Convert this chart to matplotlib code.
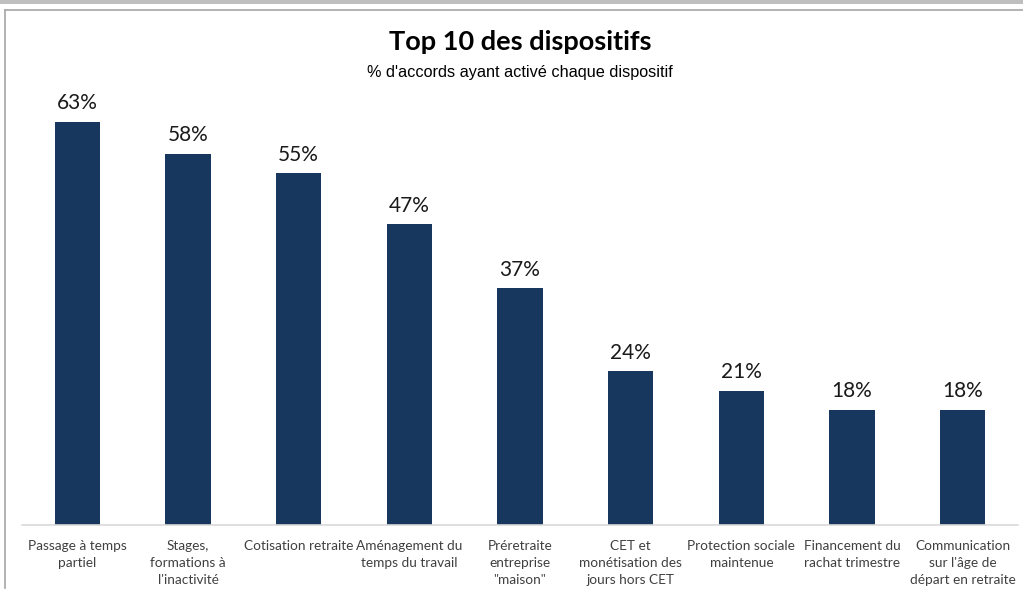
import matplotlib.pyplot as plt
from matplotlib.patches import Rectangle
from matplotlib.lines import Line2D

categories = [
	"Passage à temps\npartiel",
	"Stages,\nformations à\nl'inactivité",
	"Cotisation retraite",
	"Aménagement du\ntemps du travail",
	"Préretraite\nentreprise\n\"maison\"",
	"CET et\nmonétisation des\njours hors CET",
	"Protection sociale\nmaintenue",
	"Financement du\nrachat trimestre",
	"Communication\nsur l'âge de\ndépart en retraite",
]
values = [63, 58, 55, 47, 37, 24, 21, 18, 18]

title = "Top 10 des dispositifs"
subtitle = "% d'accords ayant activé chaque dispositif"

W, H = 1023, 595
fig = plt.figure(figsize=(W / 100, H / 100), dpi=100)

# frame decorations from the original screenshot
fig.add_artist(Rectangle((0, 1 - 4 / H), 1, 4 / H, transform=fig.transFigure,
	color='#BFBFBF', lw=0))
fig.add_artist(Line2D([5 / W, 1], [1 - 10 / H, 1 - 10 / H], transform=fig.transFigure,
	color='#A6A6A6', lw=1.2))
fig.add_artist(Line2D([5 / W, 5 / W], [1 - 10 / H, 1 - 588 / H], transform=fig.transFigure,
	color='#A6A6A6', lw=1.2))

ax_left, ax_right = 22 / W, 1018 / W
ax_bottom = 1 - 525 / H
ax_top = 1 - 77 / H
ax = fig.add_axes([ax_left, ax_bottom, ax_right - ax_left, ax_top - ax_bottom])

x = range(len(values))
bars = ax.bar(x, values, width=0.41, color='#17375E')

for b, v in zip(bars, values):
	ax.annotate(f"{v}%", (b.get_x() + b.get_width() / 2, v), xytext=(0, 6),
		textcoords='offset points', ha='center', va='bottom',
		fontsize=15, family='Lato', color='#1A1A1A')

ax.set_xlim(-0.5, len(values) - 0.5)
ax.set_ylim(0, 70)
ax.set_xticks(list(x))
ax.set_xticklabels(categories, fontsize=9.8, family='Lato', color='#404040',
	va='top', linespacing=1.5)
ax.tick_params(axis='x', length=0, pad=11)
ax.set_yticks([])
for s in ['top', 'right', 'left']:
	ax.spines[s].set_visible(False)
ax.spines['bottom'].set_color('#D9D9D9')
ax.spines['bottom'].set_linewidth(1.2)

cx = (ax_left + ax_right) / 2
fig.text(cx, 1 - 42 / H, title, ha='center', va='center', fontsize=19.5,
	fontweight='bold', family='Lato', color='black')
fig.text(cx, 1 - 73 / H, subtitle, ha='center', va='center', fontsize=11.7,
	family='Liberation Sans', color='black')

fig.savefig('out.png', dpi=100)
